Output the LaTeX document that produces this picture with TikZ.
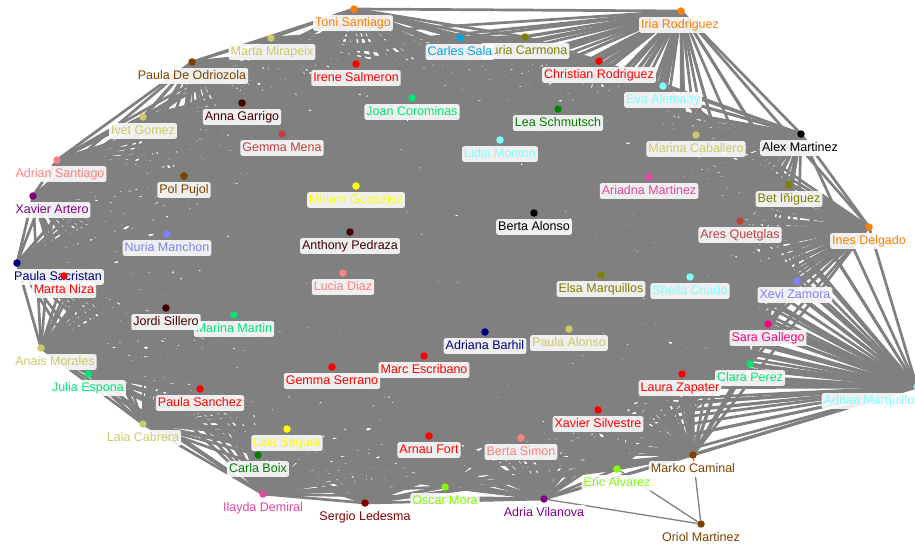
\documentclass[tikz,border=0pt]{standalone}
\usepackage{xcolor}
\usepackage{fontspec}
\setmainfont{Liberation Sans}
\usepackage{tikz}
\usetikzlibrary{shapes,positioning,backgrounds}
\definecolor{tangerine}{RGB}{255,128,0}
\definecolor{khaki}{RGB}{205,200,105}
\definecolor{umber}{RGB}{128,64,0}
\definecolor{scarlet}{RGB}{255,0,0}
\definecolor{maroonish}{RGB}{64,0,0}
\definecolor{mint}{RGB}{0,230,115}
\definecolor{brick}{RGB}{192,64,64}
\definecolor{coral}{RGB}{255,128,128}
\definecolor{sky}{RGB}{0,162,232}
\definecolor{oliv}{RGB}{128,128,0}
\definecolor{aqua}{RGB}{128,255,255}
\definecolor{forest}{RGB}{0,128,0}
\definecolor{ink}{RGB}{0,0,0}
\definecolor{plum}{RGB}{128,0,128}
\definecolor{lemon}{RGB}{255,255,0}
\definecolor{periwinkle}{RGB}{128,128,255}
\definecolor{navyblue}{RGB}{0,0,128}
\definecolor{orchid}{RGB}{225,70,160}
\definecolor{rose}{RGB}{255,0,128}
\definecolor{wine}{RGB}{128,0,0}
\definecolor{chartreuse}{RGB}{128,255,0}
\definecolor{edgegray}{RGB}{128,128,128}
\pgfdeclarelayer{links}
\pgfdeclarelayer{tags}
\pgfsetlayers{links,tags,main}
\tikzset{
    person/.style={circle, inner sep=0pt, minimum size=7.5pt},
    tag/.style={
        fill=white, fill opacity=0.88, text opacity=1,
        rounded corners=2pt,
        inner xsep=2pt, inner ysep=2pt,
        text height=9pt, text depth=2.6pt,
        font=\fontsize{12.5}{14}\selectfont
    },
    link/.style={draw=edgegray, line width=2.7pt},
    bridge/.style={draw=edgegray, line width=1.3pt}
}
\def\crowd{toni,iria,martam,nuriac,carles,paulad,irene,christian,eva,joan,anna,lea,ivet,gemmam,marinac,alex,lidia,adrians,pol,ariadna,bet,miriam,xaviera,berta,ares,ines,anthony,nuriam,paulasa,martan,lucia,elsa,sheila,xevi,marinam,jordi,sara,paulaal,adriana,anais,marc,clara,gemmas,laura,julia,adrianm,paulasz,xaviers,laiac,laias,arnau,bertas,carla,marko,eric,oscar,ilayda,adria,sergio}

\begin{document}
\begin{tikzpicture}[x=1pt, y=-1pt]
\useasboundingbox (0,0) rectangle (915,546);

\foreach \id/\px/\py/\lx/\col/\who in {
    toni/354/9/353/tangerine/Toni Santiago,
    iria/681/11/680/tangerine/Iria Rodriguez,
    martam/271/38/272/khaki/Marta Mirapeix,
    nuriac/525/37/525/oliv/Nuria Carmona,
    carles/460/38/460/sky/Carles Sala,
    paulad/192/62/192/umber/Paula De Odriozola,
    irene/356/64/356/scarlet/Irene Salmeron,
    christian/599/61/599/scarlet/Christian Rodriguez,
    eva/663/86/663/aqua/Eva Alemany,
    joan/412/98/412/mint/Joan Corominas,
    anna/242/103/242/maroonish/Anna Garrigo,
    lea/558/109/558/forest/Lea Schmutsch,
    ivet/143/117/143/khaki/Ivet Gomez,
    gemmam/282/134/282/brick/Gemma Mena,
    marinac/696/135/696/khaki/Marina Caballero,
    alex/801/134/800/ink/Alex Martinez,
    lidia/500/140/500/aqua/Lidia Monton,
    adrians/57/160/60/coral/Adrian Santiago,
    pol/184/176/184/umber/Pol Pujol,
    ariadna/649/177/649/orchid/Ariadna Martinez,
    bet/789/185/789/oliv/Bet Iñiguez,
    miriam/356/186/356/lemon/Miriam Gonzalez,
    xaviera/33/196/52/plum/Xavier Artero,
    berta/534/213/534/ink/Berta Alonso,
    ares/740/221/740/brick/Ares Quetglas,
    ines/869/227/869/tangerine/Ines Delgado,
    anthony/350/232/350/maroonish/Anthony Pedraza,
    nuriam/167/234/167/periwinkle/Nuria Manchon,
    paulasa/17/263/58/navyblue/Paula Sacristan,
    martan/64/276/64/scarlet/Marta Niza,
    lucia/343/273/343/coral/Lucia Diaz,
    elsa/601/275/601/oliv/Elsa Marquillos,
    sheila/690/277/690/aqua/Sheila Criado,
    xevi/797/281/795/periwinkle/Xevi Zamora,
    marinam/234/315/234/mint/Marina Martin,
    jordi/166/308/166/maroonish/Jordi Sillero,
    sara/768/324/768/rose/Sara Gallego,
    paulaal/569/329/569/khaki/Paula Alonso,
    adriana/485/332/485/navyblue/Adriana Barhil,
    anais/41/348/55/khaki/Anais Morales,
    marc/424/356/424/scarlet/Marc Escribano,
    clara/750/364/750/mint/Clara Perez,
    gemmas/332/367/332/scarlet/Gemma Serrano,
    laura/682/374/680/scarlet/Laura Zapater,
    julia/88/374/88/mint/Julia Espona,
    adrianm/917/387/872/aqua/Adrian Marquillos,
    paulasz/200/389/200/scarlet/Paula Sanchez,
    xaviers/598/410/598/scarlet/Xavier Silvestre,
    laiac/143/424/143/khaki/Laia Cabrera,
    laias/287/429/287/lemon/Laia Segura,
    arnau/429/436/429/scarlet/Arnau Fort,
    bertas/521/438/521/coral/Berta Simon,
    carla/258/455/258/forest/Carla Boix,
    marko/693/455/693/umber/Marko Caminal,
    eric/617/469/617/chartreuse/Eric Alvarez,
    oscar/445/487/445/chartreuse/Oscar Mora,
    ilayda/263/494/263/orchid/Ilayda Demiral,
    adria/544/499/544/plum/Adria Vilanova,
    sergio/365/503/365/wine/Sergio Ledesma,
    oriol/701/524/701/umber/Oriol Martinez%
} {
    \node [person, fill=\col] (\id) at (\px,\py) {};
    \begin{pgfonlayer}{tags}
        \node [tag, text=\col] (\id-tag) at (\lx,\py+14) {\who};
    \end{pgfonlayer}
}

\begin{pgfonlayer}{links}
    \fill [white] (0,0) rectangle (915,546);
    \foreach \a [count=\i] in \crowd {
        \foreach \b [count=\j] in \crowd {
            \ifnum\j>\i \draw [link] (\a.center) -- (\b.center); \fi
        }
    }
    \foreach \b in {marko,eric,adria}
        \draw [bridge] (oriol) -- (\b);
\end{pgfonlayer}
\end{tikzpicture}
\end{document}
